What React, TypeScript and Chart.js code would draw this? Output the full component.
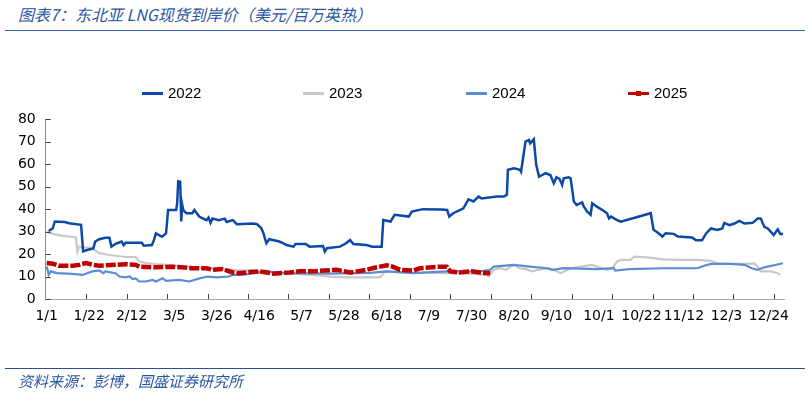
import React, { useEffect, useRef } from "react";
import { Chart, registerables } from "chart.js";

Chart.register(...registerables);

// ---- tick labels (one every 21 days on a 365-day axis, day index from 1/1) ----
const tickDays = [0, 21, 42, 63, 84, 105, 126, 147, 168, 189, 210, 231, 252, 273, 294, 315, 336, 357];
const tickLabels = ["1/1", "1/22", "2/12", "3/5", "3/26", "4/16", "5/7", "5/28", "6/18", "7/9", "7/30", "8/20", "9/10", "10/1", "10/22", "11/12", "12/3", "12/24"];

// ---- 2022 ----
const days2022 = [1, 3, 4, 9, 11, 17, 18, 20, 23, 24, 26, 29, 31, 32, 34, 37, 38, 39, 43, 47, 48, 52, 53, 54, 57, 59, 60, 64, 64.5, 65, 66, 66.5, 67, 67.5, 69, 72, 73, 75.5, 79, 80, 81, 82, 85, 88, 89, 92, 94, 102, 104, 106, 107, 108.6, 110, 115, 117, 118.5, 122, 123, 128, 130, 136.6, 137.5, 138.5, 145, 148, 150, 151.6, 158, 161, 165.6, 166.4, 170, 172, 179, 180.5, 186, 195, 198, 199, 201, 206, 208.5, 211, 213.5, 215, 222.6, 226, 227.5, 228, 231, 234, 234.5, 236.7, 238.4, 239, 240.8, 242, 243.4, 245, 246.6, 249, 250.7, 252, 253.5, 254.8, 255.6, 258, 259, 260.6, 262, 264.7, 265.5, 267.2, 268.9, 269.7, 272, 274.7, 277, 278, 279, 282, 283.8, 298.6, 300, 302, 304.4, 306, 310, 312, 319, 321, 324, 326, 328.4, 331.5, 334, 335, 337.5, 340, 342.4, 345, 349, 351.5, 353, 354.8, 356.5, 359.4, 361.4, 362.7, 364];
const vals2022 = [30.3, 31.5, 34.5, 34.3, 33.7, 33, 21.2, 21.8, 22.5, 25.6, 26.6, 27.3, 27.3, 23.3, 24.6, 25.6, 24, 25, 25, 25, 23.7, 24, 26.2, 29.2, 27.7, 29.2, 39.6, 39.6, 42.6, 52.4, 52.2, 34.5, 41.9, 39.6, 38.2, 38.2, 39.6, 36.6, 35.1, 36.3, 33.9, 35.8, 35.1, 35.8, 34.3, 35.1, 33.3, 33.6, 33.3, 31.6, 29.6, 24.8, 26.6, 25.6, 24.8, 24, 23.3, 24.5, 24.5, 23.3, 23.6, 21.1, 22.6, 23.3, 24.8, 26.3, 24.5, 24, 23.3, 23.3, 35.2, 34.5, 37.5, 36.7, 38.9, 40, 39.8, 39.6, 36.7, 38.2, 40.4, 44.4, 43.4, 45.6, 44.8, 45.6, 45.6, 46.4, 57.5, 58.2, 57.5, 56.7, 70.1, 70.8, 69.3, 71.1, 59.7, 54.5, 55.2, 56, 55.2, 51.5, 54.2, 53.5, 50.8, 53.7, 54.2, 53.7, 43.4, 41.9, 43, 41.2, 38.9, 37.5, 42.6, 41.1, 39.6, 38.2, 35.9, 36.7, 35.1, 34.4, 38.2, 30.8, 29.6, 27.8, 29.3, 29, 27.8, 27.4, 26.2, 26.2, 29.2, 31.4, 30.7, 31.4, 33.9, 32.9, 33.6, 34.8, 33.6, 33.9, 35.8, 35.8, 32.1, 31.4, 28.5, 31, 28.9, 28.9];

// ---- 2023 ----
const days2023 = [0, 3, 8, 14.4, 15.2, 16, 22.6, 26, 31, 39, 44, 45.8, 49, 54, 59, 69, 79, 92, 95, 102, 108.6, 118, 131.7, 140, 148, 164.8, 167.3, 181, 198, 206, 217.6, 218.5, 221, 224, 227, 230.9, 234, 237, 240, 243, 248, 252.4, 254, 259, 264, 269.7, 272, 277, 279.5, 282, 284, 288.7, 290.4, 297, 305, 313, 321.7, 328.4, 331.5, 338, 345, 349.8, 351.5, 353.2, 358, 361.4, 362.7];
const vals2023 = [30, 29, 28.1, 27.5, 21.1, 23.3, 22.6, 20.4, 19.6, 18.7, 18.7, 16.7, 16, 15.5, 15.2, 14.4, 13.7, 13, 12.7, 12.7, 11.8, 11.5, 10.7, 10, 9.6, 9.6, 12.3, 11.8, 11.5, 11.5, 10.7, 10, 13, 13.7, 13, 15.2, 13.7, 13.3, 12.3, 13, 13.7, 12.3, 11.5, 13.7, 14.4, 15.2, 14.4, 13, 13.7, 16.7, 17.4, 17.4, 18.9, 18.5, 17.6, 17.4, 17.4, 17, 15.9, 15.6, 15.6, 15.9, 14.4, 12.3, 12.3, 11.5, 10.7];

// ---- 2024 ----
const days2024 = [0, 1, 2, 5, 12.7, 17.6, 20, 22.6, 26, 28, 29, 34, 36, 39, 41, 42.5, 44, 45.8, 49, 52.4, 54, 57.3, 59, 65.6, 70.5, 75.5, 79.6, 84, 90, 92, 97, 102, 108.6, 118, 140, 160, 168, 181, 198, 214.4, 219.3, 221, 231, 239, 247.4, 250, 255.6, 272, 280.4, 281, 288, 305, 321.7, 325, 328.4, 338, 345, 348.5, 351.5, 354.8, 364];
const vals2024 = [14.5, 10.8, 12.3, 11.5, 11.2, 10.7, 11.5, 12.3, 12.7, 11.5, 12.3, 11.5, 10, 9.6, 10, 8.9, 9.2, 7.8, 7.8, 8.5, 7.8, 9.2, 8.1, 8.5, 7.8, 9.2, 10, 9.6, 10, 10.7, 10.7, 11.5, 12.3, 11.5, 11.3, 11.6, 12.3, 11.5, 12.3, 12.3, 13, 14.4, 15.2, 14.4, 13.7, 13, 13.7, 13.3, 13.7, 12.7, 13.3, 13.7, 13.7, 14.8, 15.6, 15.6, 15.2, 13.7, 13, 14.1, 15.9];

// ---- 2025 ----
const days2025 = [0, 3, 6, 13, 16, 19.4, 23, 26, 39, 44, 45.8, 54, 62, 72, 79, 82, 87, 92, 95, 105, 109, 112, 115, 120, 125, 131.7, 137.5, 143.3, 150, 158.2, 161, 168, 171, 174.7, 181.3, 184.6, 194.5, 197.8, 199.5, 204, 210, 214.4, 219.3];
const vals2025 = [16, 15.7, 14.8, 14.8, 15.2, 16, 15.2, 14.8, 15.5, 15.2, 14.4, 14.1, 14.4, 13.7, 13.7, 13, 13.3, 11.8, 11.5, 12.3, 11.8, 11.2, 11.5, 11.8, 12.3, 12.3, 12.7, 13, 11.8, 13, 13.7, 15, 14.4, 13, 12.6, 13.7, 14.4, 14.4, 12.3, 11.8, 12.3, 11.8, 11.5];

const seriesNames = ["2022", "2023", "2024", "2025"];
const C2022 = "#0c48a6";
const C2023 = "#c8c8c8";
const C2024 = "#5b8dd3";
const C2025 = "#c00000";

const toPts = (d: number[], v: number[]) => d.map((x, i) => ({ x, y: v[i] }));

const innerTicks = {
  id: "innerTicks",
  afterDraw(chart: any) {
    const { ctx, chartArea } = chart;
    const xs = chart.scales.x;
    const ys = chart.scales.y;
    ctx.save();
    ctx.strokeStyle = "#404040";
    ctx.lineWidth = 1;
    ctx.beginPath();
    for (let k = 1; k <= 18; k++) {
      const px = Math.round(xs.getPixelForValue(k * 20 - 0.5)) + 0.5;
      ctx.moveTo(px, chartArea.bottom);
      ctx.lineTo(px, chartArea.bottom - 5);
    }
    ys.ticks.forEach((t: any) => {
      const py = Math.round(ys.getPixelForValue(t.value)) + 0.5;
      ctx.moveTo(chartArea.left, py);
      ctx.lineTo(chartArea.left + 5, py);
    });
    ctx.stroke();
    ctx.restore();
  },
};

const axisFont = { family: "'DejaVu Sans', Verdana, sans-serif", size: 14 };

function LegendItem({ left, color, label, marker, thick }: { left: number; color: string; label: string; marker?: boolean; thick?: number }) {
  return (
    <div style={{ position: "absolute", left, top: 82, height: 22, width: 80 }}>
      <div style={{ position: "absolute", left: 0, top: 11 - (thick || 3) / 2, width: 21, height: thick || 3, background: color }} />
      {marker && <div style={{ position: "absolute", left: 8, top: 8.5, width: 5, height: 5, background: color }} />}
      <span style={{ position: "absolute", left: 26, top: 0, lineHeight: "22px", fontSize: 15, fontFamily: "'Liberation Sans', Arial, sans-serif", color: "#000", whiteSpace: "nowrap" }}>{label}</span>
    </div>
  );
}

export default function App() {
  const ref = useRef<HTMLCanvasElement | null>(null);
  useEffect(() => {
    if (!ref.current) return;
    const chart = new Chart(ref.current, {
      type: "line",
      data: {
        datasets: [
          { label: seriesNames[0], data: toPts(days2022, vals2022), borderColor: C2022, borderWidth: 2.5, pointRadius: 0, tension: 0, order: 1 },
          { label: seriesNames[1], data: toPts(days2023, vals2023), borderColor: C2023, borderWidth: 2.2, pointRadius: 0, tension: 0, order: 3 },
          { label: seriesNames[2], data: toPts(days2024, vals2024), borderColor: C2024, borderWidth: 2.2, pointRadius: 0, tension: 0, order: 2 },
          { label: seriesNames[3], data: toPts(days2025, vals2025), borderColor: C2025, borderWidth: 4.5, borderDash: [10, 2], borderCapStyle: "butt", pointRadius: 0, tension: 0, order: 0 },
        ],
      },
      options: {
        responsive: false,
        animation: false,
        devicePixelRatio: 1,
        layout: { padding: { left: 5.7, right: 26, top: 119.3, bottom: 55 } },
        plugins: { legend: { display: false }, title: { display: false }, tooltip: { enabled: false } },
        scales: {
          x: {
            type: "linear",
            min: -0.5,
            max: 364.5,
            afterBuildTicks: (scale: any) => {
              scale.ticks = tickDays.map((v) => ({ value: v }));
            },
            afterFit: (scale: any) => {
              scale.height = 40;
            },
            ticks: {
              autoSkip: false,
              maxRotation: 0,
              padding: 9,
              color: "#000",
              font: axisFont,
              callback: (v: any) => {
                const i = tickDays.indexOf(Number(v));
                return i >= 0 ? tickLabels[i] : "";
              },
            },
            grid: { display: false, drawTicks: false },
            border: { display: true, color: "#a6a6a6", width: 1 },
          },
          y: {
            min: 0,
            max: 80,
            afterFit: (scale: any) => {
              scale.width = 40;
            },
            ticks: { stepSize: 10, padding: 10, color: "#000", font: axisFont },
            grid: { display: false, drawTicks: false },
            border: { display: true, color: "#8c8c8c", width: 1 },
          },
        },
      },
      plugins: [innerTicks],
    } as any);
    return () => chart.destroy();
  }, []);

  const cjk = "'Noto Sans CJK SC', sans-serif";
  return (
    <div style={{ position: "absolute", left: 0, top: 0, width: 810, height: 394, background: "#fff", overflow: "hidden" }}>
      <div style={{ position: "absolute", left: 18, top: 3, lineHeight: "22px", fontSize: 16, fontStyle: "italic", fontFamily: cjk, color: "#2b56a3", whiteSpace: "nowrap" }}>
        图表7：东北亚 LNG现货到岸价（美元/百万英热）
      </div>
      <div style={{ position: "absolute", left: 5, top: 29.5, width: 800, height: 1.5, background: "#3d66b0" }} />
      <canvas ref={ref} width={810} height={394} style={{ position: "absolute", left: 0, top: 0 }} />
      <LegendItem left={142} color={C2022} label="2022" />
      <LegendItem left={303} color={C2023} label="2023" />
      <LegendItem left={466} color={C2024} label="2024" />
      <LegendItem left={628} color={C2025} label="2025" marker />
      <div style={{ position: "absolute", left: 5, top: 367.5, width: 800, height: 1.5, background: "#2e4f93" }} />
      <div style={{ position: "absolute", left: 18, top: 370, lineHeight: "22px", fontSize: 15, fontStyle: "italic", fontFamily: cjk, color: "#2b56a3", whiteSpace: "nowrap" }}>
        资料来源：彭博，国盛证券研究所
      </div>
    </div>
  );
}
